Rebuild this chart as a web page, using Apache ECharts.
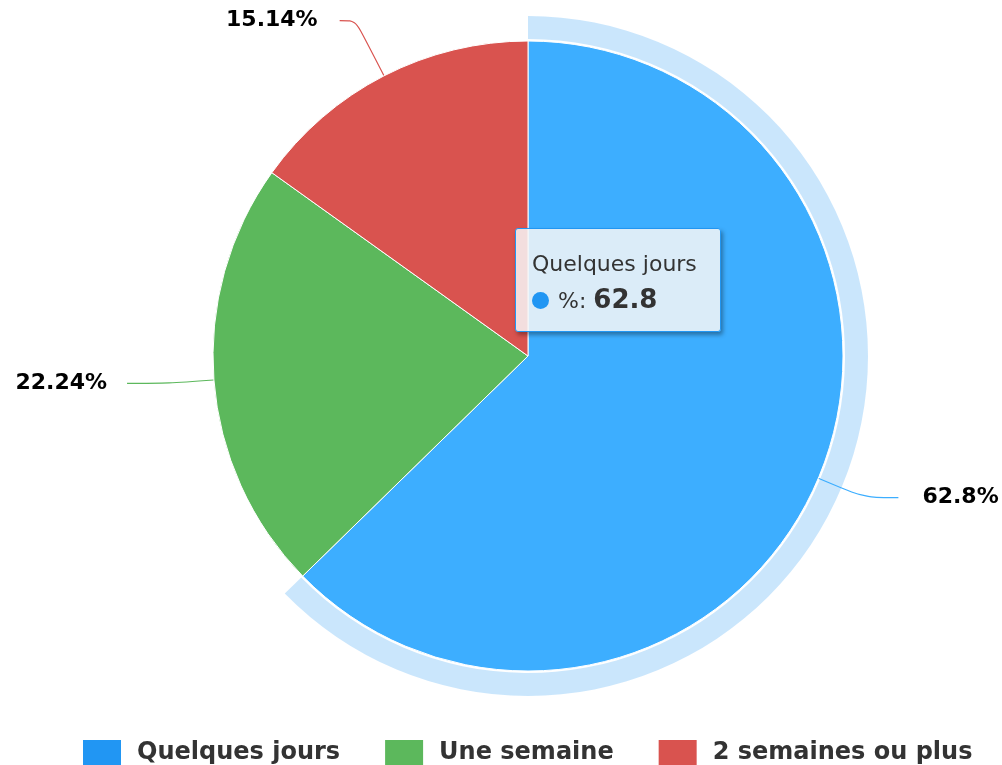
<!DOCTYPE html>
<html>
<head>
<meta charset="utf-8">
<title>Durée</title>
<script src="https://cdn.jsdelivr.net/npm/echarts@6/dist/echarts.min.js"></script>
<style>
  html, body { margin: 0; padding: 0; background: #fff; }
  #chart { width: 1002px; height: 765px; }
</style>
</head>
<body>
<div id="chart"></div>
<script>
// data
var categories = ['Quelques jours', 'Une semaine', '2 semaines ou plus'];
var percents = [62.8, 22.24, 15.14];
var sliceColors = ['#3daeff', '#5cb85c', '#d9534f'];
var legendColors = ['#2196f3', '#5cb85c', '#d9534f'];
var hoveredIndex = 0;

// label line lengths per slice [length, length2, gap to text]
var lineSizes = [[50, 34, 24], [45, 42, 20], [62, 16, 22]];

var font = 'DejaVu Sans, Verdana, sans-serif';

var chart = echarts.init(document.getElementById('chart'));

var mainData = categories.map(function (name, i) {
  return {
    name: name,
    value: percents[i],
    itemStyle: { color: sliceColors[i] },
    label: { distanceToLabelLine: lineSizes[i][2] },
    labelLine: {
      length: lineSizes[i][0],
      length2: lineSizes[i][1],
      lineStyle: { color: sliceColors[i] }
    }
  };
});

// light ring around the hovered slice
var haloData = categories.map(function (name, i) {
  return {
    name: name,
    value: percents[i],
    itemStyle: { color: i === hoveredIndex ? 'rgba(33,150,243,0.24)' : 'rgba(0,0,0,0)' }
  };
});

var option = {
  animation: false,
  tooltip: {
    trigger: 'item',
    triggerOn: 'none',
    alwaysShowContent: true,
    position: [515, 228],
    backgroundColor: 'rgba(247,247,247,0.85)',
    borderColor: '#2196f3',
    borderWidth: 1.5,
    borderRadius: 3,
    padding: [20, 14, 12, 16],
    extraCssText: 'box-shadow: 2px 3px 4px rgba(0,0,0,0.35); width: 174px; height: 70px;',
    formatter: function (p) {
      return '<div style="font-family:' + font + ';font-size:22px;color:#333;line-height:30px;white-space:nowrap;">' + p.name + '</div>' +
        '<div style="font-family:' + font + ';font-size:22px;color:#333;line-height:40px;white-space:nowrap;">' +
        '<span style="display:inline-block;width:17px;height:17px;border-radius:50%;background:' + legendColors[p.dataIndex] + ';margin-right:9px;vertical-align:-1px;"></span>' +
        '%: <b style="font-size:26px;">' + p.value + '</b></div>';
    }
  },
  legend: {
    left: 78,
    top: 735,
    itemWidth: 38,
    itemHeight: 26,
    itemGap: 45,
    icon: 'rect',
    data: categories.map(function (name, i) {
      return { name: name, itemStyle: { color: legendColors[i] } };
    }),
    textStyle: {
      fontFamily: font,
      fontSize: 24,
      fontWeight: 'bold',
      color: '#333',
      padding: [0, 0, 0, 11]
    }
  },
  series: [
    {
      type: 'pie',
      z: 1,
      center: [528, 356],
      radius: [317, 340],
      silent: true,
      tooltip: { show: false },
      label: { show: false },
      labelLine: { show: false },
      emphasis: { disabled: true },
      data: haloData
    },
    {
      type: 'pie',
      z: 2,
      center: [528, 356],
      radius: 315,
      startAngle: 90,
      avoidLabelOverlap: false,
      itemStyle: { borderColor: '#fff', borderWidth: 1 },
      emphasis: { scale: false },
      label: {
        show: true,
        position: 'outside',
        formatter: '{c}%',
        fontFamily: font,
        fontSize: 22,
        fontWeight: 'bold',
        color: '#000',
        textBorderColor: '#fff',
        textBorderWidth: 2,
        overflow: 'none'
      },
      labelLine: {
        show: true,
        smooth: 0.3,
        lineStyle: { width: 1.2 }
      },
      data: mainData
    }
  ]
};

chart.setOption(option);
chart.dispatchAction({ type: 'showTip', seriesIndex: 1, dataIndex: hoveredIndex });
</script>
</body>
</html>
